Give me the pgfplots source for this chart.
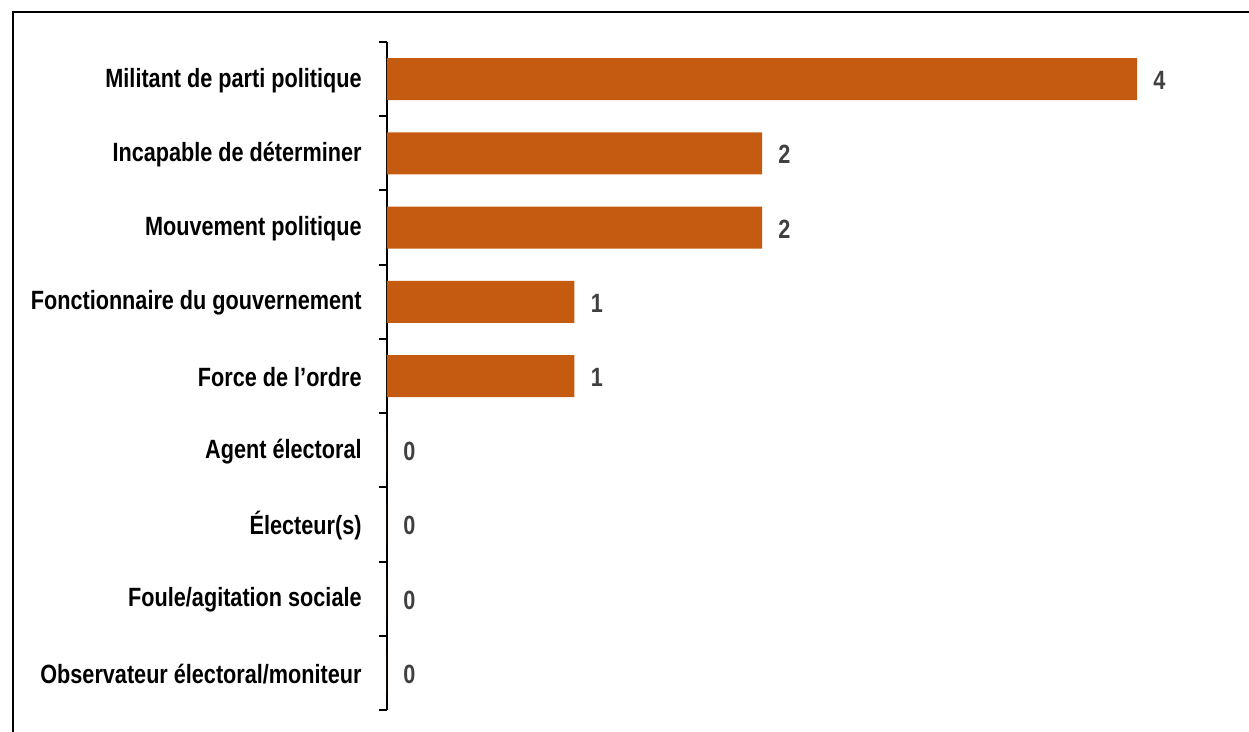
\documentclass[border=0pt]{standalone}
\usepackage{fontspec}
\setmainfont{Liberation Sans}[FakeStretch=0.82]
\usepackage{pgfplots}
\pgfplotsset{compat=1.18}
\definecolor{barc}{HTML}{C55A11}
\definecolor{valc}{HTML}{404040}
\begin{document}
\begin{tikzpicture}
\useasboundingbox (0,0) rectangle (624.5pt,-366pt);
\draw[line width=1pt] (6.25pt,-370pt) -- (6.25pt,-6.25pt) -- (630pt,-6.25pt);
\begin{axis}[
  at={(193.5pt,-355pt)}, anchor=south west,
  scale only axis, width=412.5pt, height=334pt,
  xbar, bar width=21pt,
  xmin=0, xmax=4.4,
  ymin=-0.5, ymax=8.5, y dir=reverse,
  axis x line=none, axis y line*=left,
  axis line style={line width=1pt, black},
  /pgf/number format/assume math mode=true,
  ytick={0,...,8},
  yticklabels={Militant de parti politique, Incapable de déterminer, Mouvement politique, Fonctionnaire du gouvernement, Force de l’ordre, Agent électoral, Électeur(s), Foule/agitation sociale, Observateur électoral/moniteur},
  minor ytick={-0.5,0.5,...,8.5},
  major tick length=0pt, minor tick length=4pt, tick align=outside,
  tick style={black, line width=1pt},
  yticklabel style={font=\fontsize{13.2}{15}\selectfont\bfseries, anchor=east, inner sep=0pt, xshift=-12.5pt, yshift=-0.7pt},
  nodes near coords,
  nodes near coords style={font=\fontsize{13.2}{15}\selectfont\bfseries, text=valc, anchor=west, inner sep=0pt, xshift=8pt, yshift=-0.7pt},
  clip=false,
]
\addplot[fill=barc, draw=none] coordinates {(4,0) (2,1) (2,2) (1,3) (1,4) (0,5) (0,6) (0,7) (0,8)};
\end{axis}
\end{tikzpicture}
\end{document}
